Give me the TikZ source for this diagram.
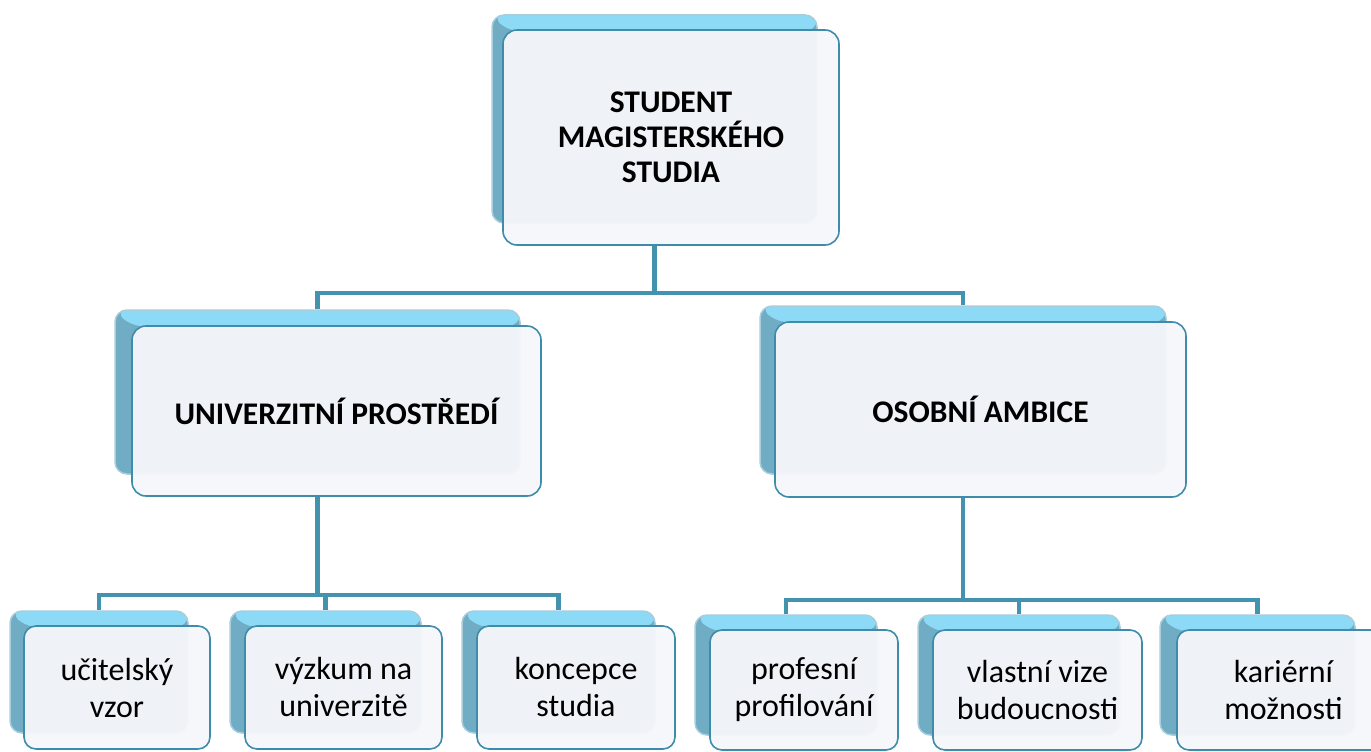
\documentclass[tikz,border=0pt]{standalone}
\usepackage{fontspec}
\setmainfont{Carlito}
\usetikzlibrary{backgrounds}
\definecolor{conn}{RGB}{66,146,176}
\definecolor{backdark}{RGB}{112,172,196}
\definecolor{backcyan}{RGB}{140,218,246}
\definecolor{frontfill}{RGB}{246,247,251}
\definecolor{frontline}{RGB}{62,140,170}
\definecolor{backline}{RGB}{168,205,220}
\tikzset{
  connline/.style={draw=conn, line width=4.5pt},
  backbox/.style={rectangle, rounded corners=12pt, fill=backdark, draw=backline, line width=1.5pt,
    path picture={\fill[backcyan] (path picture bounding box.north west) -- (path picture bounding box.north east)
      -- ([yshift=-16pt]path picture bounding box.north east) -- ([xshift=15pt,yshift=-16pt]path picture bounding box.north west) -- cycle;}},
  frontbox/.style={rectangle, rounded corners=14pt, fill=frontfill, fill opacity=0.95, text opacity=1,
    draw=frontline, line width=1.6pt, align=center, inner sep=0pt},
  bigtext/.style={font=\fontsize{31.5}{35}\selectfont\bfseries},
  smalltext/.style={font=\fontsize{32}{37}\selectfont},
}
\begin{document}
\begin{tikzpicture}[x=1pt,y=-1pt]
\useasboundingbox (0,0) rectangle (1371,752);
% back boxes
\node[backbox, minimum width=325pt, minimum height=208pt] (rootb) at (654.5,119) {};
\node[backbox, minimum width=405pt, minimum height=164pt] (unib) at (317.5,392) {};
\node[backbox, minimum width=406pt, minimum height=168pt] (osob) at (963,390) {};
\node[backbox, minimum width=178pt, minimum height=122pt] (ucb) at (99,672) {};
\node[backbox, minimum width=191pt, minimum height=122pt] (vyb) at (325.5,672) {};
\node[backbox, minimum width=193pt, minimum height=122pt] (kob) at (558.5,672) {};
\node[backbox, minimum width=182pt, minimum height=120pt] (prb) at (786,675) {};
\node[backbox, minimum width=202pt, minimum height=120pt] (vlb) at (1019,675) {};
\node[backbox, minimum width=195pt, minimum height=120pt] (kab) at (1257.5,675) {};
% coordinates for bus levels
\coordinate (topbus) at (0,293);
\coordinate (leftbus) at (0,595);
\coordinate (rightbus) at (0,600);
% front boxes
\node[frontbox, bigtext, minimum width=336pt, minimum height=215pt] (root) at (671,137.5) {STUDENT\\MAGISTERSKÉHO\\STUDIA};
\node[frontbox, bigtext, minimum width=409pt, minimum height=170pt] (uni) at (336.5,411) {UNIVERZITNÍ PROSTŘEDÍ};
\node[frontbox, bigtext, minimum width=411pt, minimum height=175pt] (oso) at (980.5,409.5) {OSOBNÍ AMBICE};
\node[frontbox, smalltext, rounded corners=12pt, minimum width=186pt, minimum height=123pt] (uc) at (117,687.5) {učitelský\\vzor};
\node[frontbox, smalltext, rounded corners=12pt, minimum width=197pt, minimum height=123pt] (vy) at (343.5,687.5) {výzkum na\\univerzitě};
\node[frontbox, smalltext, rounded corners=12pt, minimum width=198pt, minimum height=123pt] (ko) at (576,687.5) {koncepce\\studia};
\node[frontbox, smalltext, rounded corners=12pt, minimum width=188pt, minimum height=120pt] (pr) at (804,690) {profesní\\profilování};
\node[frontbox, smalltext, rounded corners=12pt, minimum width=209pt, minimum height=120pt] (vl) at (1037.5,690) {vlastní vize\\budoucnosti};
\node[frontbox, smalltext, rounded corners=12pt, minimum width=213pt, minimum height=120pt] (ka) at (1283.5,690) {kariérní\\možnosti};
% connectors (drawn behind)
\begin{scope}[on background layer]
\draw[connline] (rootb |- root.south) -- (rootb |- topbus) -| (unib.north);
\draw[connline] (rootb |- topbus) -| (osob.north);
\draw[connline] (unib |- uni.south) -- (unib |- leftbus);
\draw[connline] (ucb.north) |- (kob |- leftbus) -- (kob.north);
\draw[connline] (vyb |- leftbus) -- (vyb.north);
\draw[connline] (osob |- oso.south) -- (osob |- rightbus);
\draw[connline] (prb.north) |- (kab |- rightbus) -- (kab.north);
\draw[connline] (vlb |- rightbus) -- (vlb.north);
\end{scope}
\end{tikzpicture}
\end{document}
